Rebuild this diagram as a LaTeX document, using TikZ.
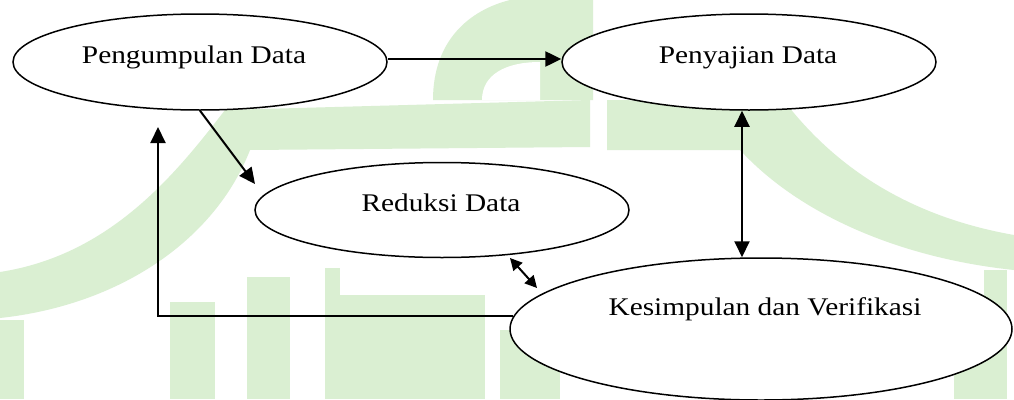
\documentclass[tikz,border=0pt]{standalone}
\usepackage{fontspec}
\setmainfont{Liberation Serif}[FakeStretch=1.155]
\usetikzlibrary{arrows.meta,shapes.geometric}
\definecolor{wm}{RGB}{218,239,210}
\begin{document}
\begin{tikzpicture}[x=1pt,y=-1pt,
  bub/.style={draw=black, fill=white, ellipse, line width=1.5pt, inner sep=0pt},
  lbl/.style={anchor=base, inner sep=0pt, font=\fontsize{25.4}{30}\selectfont},
  conn/.style={line width=2pt, draw=black},
  bigtip/.style={-{Triangle[length=16pt,width=15pt]}},
  bothtip/.style={{Triangle[length=16pt,width=15pt]}-{Triangle[length=16pt,width=15pt]}},
  smalltip/.style={{Triangle[length=12pt,width=12pt]}-{Triangle[length=12pt,width=12pt]}}]
% canvas
\fill[white] (0,0) rectangle (1014,399);
\useasboundingbox (0,0) rectangle (1014,399);
% watermark
\fill[wm] (0,272) .. controls (110,255) and (175,175) .. (225,110) -- (590,100) -- (590,147) -- (250,150) .. controls (215,240) and (120,305) .. (0,318) -- cycle;
\fill[wm] (0,320) rectangle (24,399);
\fill[wm] (170,302) rectangle (215,399);
\fill[wm] (247,277) rectangle (290,399);
\fill[wm] (325,268) rectangle (340,399);
\fill[wm] (340,295) rectangle (485,399);
\fill[wm] (500,330) rectangle (560,399);
\fill[wm] (433,100) .. controls (433,40) and (470,10) .. (510,0) -- (593,0) -- (593,100) -- cycle;
\fill[white] (482,100) .. controls (482,75) and (505,62) .. (540,62) -- (540,100) -- cycle;
\fill[wm] (607,100) -- (785,102) .. controls (830,160) and (900,215) .. (1014,235) -- (1014,270) .. controls (900,258) and (800,215) .. (740,150) -- (607,150) -- cycle;
\fill[wm] (984,270) rectangle (1007,399);
\fill[wm] (954,333) rectangle (984,399);
% ellipses
\node[bub, minimum width=374pt, minimum height=96pt] (p) at (200,62) {};
\node[bub, minimum width=374pt, minimum height=96pt] (s) at (749,62) {};
\node[bub, minimum width=374pt, minimum height=95pt] (r) at (442,210) {};
\node[bub, minimum width=502pt, minimum height=142pt] (k) at (761,329) {};
% labels
\node[lbl] (pt) at (194,63) {Pengumpulan Data};
\node[lbl] (st) at (748,63) {Penyajian Data};
\node[lbl] (rt) at (441,211) {Reduksi Data};
\node[lbl] (kt) at (765,315) {Kesimpulan dan Verifikasi};
% helper coordinates
\coordinate (rin) at (255,184);
\coordinate (ra) at (510,258);
\coordinate (ka) at (537,288);
\coordinate (kl) at (513,316);
\coordinate (pu) at (158,127);
% connectors
\draw[conn, line width=2.5pt, bigtip] ([yshift=3pt]p.east) -- ([yshift=3pt]s.west);
\draw[conn, bigtip] (p.south) -- (rin);
\draw[conn, bothtip] ([xshift=-7pt]s.south) -- ([xshift=-7pt]s.south |- k.north);
\draw[conn, smalltip] (ra) -- (ka);
\draw[conn, bigtip] (kl) -- (kl -| pu) -- (pu);
\end{tikzpicture}
\end{document}
